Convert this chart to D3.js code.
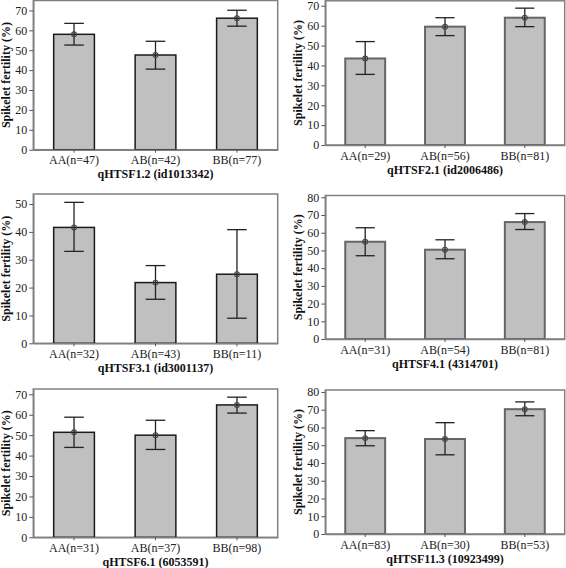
<!DOCTYPE html>
<html>
<head>
<meta charset="utf-8">
<script src="https://cdn.jsdelivr.net/npm/d3@7"></script>
<style>
  html, body { margin: 0; padding: 0; background: #fff; }
  svg { display: block; }
</style>
</head>
<body>
<svg id="chart" width="566" height="568"></svg>
<script>
// ---------- DATA ----------
const panelTitles = [
  "qHTSF1.2 (id1013342)",
  "qHTSF2.1 (id2006486)",
  "qHTSF3.1 (id3001137)",
  "qHTSF4.1 (4314701)",
  "qHTSF6.1 (6053591)",
  "qHTSF11.3 (10923499)"
];
const genotypeLabels = [
  ["AA(n=47)", "AB(n=42)", "BB(n=77)"],
  ["AA(n=29)", "AB(n=56)", "BB(n=81)"],
  ["AA(n=32)", "AB(n=43)", "BB(n=11)"],
  ["AA(n=31)", "AB(n=54)", "BB(n=81)"],
  ["AA(n=31)", "AB(n=37)", "BB(n=98)"],
  ["AA(n=83)", "AB(n=30)", "BB(n=53)"]
];
const means = [
  [58.0, 47.6, 66.1],
  [43.5, 59.5, 64.0],
  [41.6, 21.8, 24.8],
  [54.9, 50.4, 66.0],
  [51.4, 50.0, 64.8],
  [54.0, 53.5, 70.3]
];
const lowerErr = [
  [52.6, 40.5, 62.1],
  [35.5, 55.0, 59.5],
  [33.0, 15.8, 9.0],
  [47.0, 45.3, 61.8],
  [44.0, 43.0, 60.8],
  [49.7, 44.6, 66.6]
];
const upperErr = [
  [63.5, 54.5, 70.1],
  [52.0, 64.0, 68.8],
  [50.6, 27.9, 40.8],
  [62.8, 56.0, 70.8],
  [58.8, 57.3, 68.6],
  [58.2, 62.7, 74.4]
];
const yTickValues = [
  [0, 10, 20, 30, 40, 50, 60, 70],
  [0, 10, 20, 30, 40, 50, 60, 70],
  [0, 10, 20, 30, 40, 50],
  [0, 10, 20, 30, 40, 50, 60, 70, 80],
  [0, 10, 20, 30, 40, 50, 60, 70],
  [0, 10, 20, 30, 40, 50, 60, 70, 80]
];
const yDomainMax = [75, 72.5, 53.6, 81, 72.6, 81.1];
const yAxisTitle = "Spikelet fertility (%)";

// ---------- LAYOUT (positions only) ----------
const frames = [
  { L: 33.3, R: 277.7, T: 0.5, B: 149.7, stroke: "#1a1a1a", sw: 1.5 },
  { L: 325.3, R: 564.7, T: 0.8, B: 145, stroke: "#666", sw: 2 },
  { L: 33.3, R: 277.7, T: 194, B: 343.3, stroke: "#1a1a1a", sw: 1.5 },
  { L: 325.3, R: 564.7, T: 195.5, B: 339, stroke: "#666", sw: 2 },
  { L: 33.3, R: 277.7, T: 389, B: 537.3, stroke: "#1a1a1a", sw: 1.5 },
  { L: 325.3, R: 564.7, T: 390, B: 534, stroke: "#666", sw: 2 }
];

const serif = "'Liberation Serif', 'Times New Roman', Times, serif";
const svg = d3.select("#chart");

panelTitles.forEach((title, i) => {
  const f = frames[i];
  const g = svg.append("g");

  const x = d3.scaleBand()
    .domain(genotypeLabels[i])
    .range([f.L, f.R])
    .paddingInner(0.5)
    .paddingOuter(0.25);
  const y = d3.scaleLinear()
    .domain([0, yDomainMax[i]])
    .range([f.B, f.T]);

  // frame
  g.append("rect")
    .attr("x", f.L).attr("y", f.T)
    .attr("width", f.R - f.L).attr("height", f.B - f.T)
    .attr("fill", "none")
    .attr("stroke", "#808080")
    .attr("stroke-width", 1.5);

  // bars
  g.selectAll("rect.bar")
    .data(genotypeLabels[i])
    .join("rect")
    .attr("class", "bar")
    .attr("x", d => x(d))
    .attr("y", (d, j) => y(means[i][j]))
    .attr("width", x.bandwidth())
    .attr("height", (d, j) => y(0) - y(means[i][j]))
    .attr("fill", "#c0c0c0")
    .attr("stroke", f.stroke)
    .attr("stroke-width", f.sw);

  // error bars
  const cap = x.bandwidth() * 0.24;
  genotypeLabels[i].forEach((d, j) => {
    const cx = x(d) + x.bandwidth() / 2;
    const eg = g.append("g")
      .attr("stroke", "#222")
      .attr("stroke-width", 1.3)
      .attr("fill", "none");
    eg.append("line")
      .attr("x1", cx).attr("x2", cx)
      .attr("y1", y(lowerErr[i][j])).attr("y2", y(upperErr[i][j]));
    eg.append("line")
      .attr("x1", cx - cap).attr("x2", cx + cap)
      .attr("y1", y(upperErr[i][j])).attr("y2", y(upperErr[i][j]));
    eg.append("line")
      .attr("x1", cx - cap).attr("x2", cx + cap)
      .attr("y1", y(lowerErr[i][j])).attr("y2", y(lowerErr[i][j]));
    eg.append("circle")
      .attr("cx", cx).attr("cy", y(means[i][j]))
      .attr("r", 2.4)
      .attr("stroke", "#444")
      .attr("stroke-width", 1.1);
  });

  // y axis
  const ya = g.append("g")
    .attr("transform", `translate(${f.L},0)`)
    .call(d3.axisLeft(y).tickValues(yTickValues[i]).tickSize(4).tickSizeOuter(0).tickPadding(2));
  ya.select(".domain").attr("stroke", "#808080").attr("stroke-width", 1.5);
  ya.selectAll(".tick line").attr("stroke", "#555");
  ya.selectAll(".tick text")
    .attr("font-family", serif)
    .attr("font-size", 12)
    .attr("fill", "#222");

  // x axis
  const xa = g.append("g")
    .attr("transform", `translate(0,${f.B})`)
    .call(d3.axisBottom(x).tickSize(3).tickSizeOuter(0).tickPadding(3));
  xa.select(".domain").attr("stroke", "#808080").attr("stroke-width", 1.5);
  xa.selectAll(".tick line").attr("stroke", "#555");
  xa.selectAll(".tick text")
    .attr("font-family", serif)
    .attr("font-size", 12)
    .attr("fill", "#222");

  // x title
  g.append("text")
    .attr("x", (f.L + f.R) / 2)
    .attr("y", f.B + 28.5)
    .attr("text-anchor", "middle")
    .attr("font-family", serif)
    .attr("font-weight", "bold")
    .attr("font-size", 12)
    .attr("fill", "#111")
    .text(title);

  // y title
  const ty = (f.T + f.B) / 2;
  const tx = f.L - 27.5;
  g.append("text")
    .attr("transform", `translate(${tx},${ty}) rotate(-90)`)
    .attr("text-anchor", "middle")
    .attr("dominant-baseline", "central")
    .attr("font-family", serif)
    .attr("font-weight", "bold")
    .attr("font-size", 12)
    .attr("fill", "#111")
    .text(yAxisTitle);
});
</script>
</body>
</html>
